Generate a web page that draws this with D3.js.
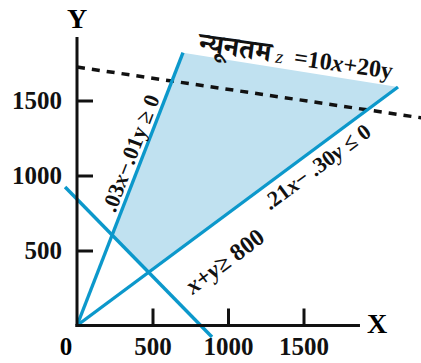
<!DOCTYPE html>
<html>
<head>
<meta charset="utf-8">
<script src="https://cdn.jsdelivr.net/npm/d3@7"></script>
<style>
	body { margin: 0; background: #fff; }
	svg { display: block; font-family: "Liberation Serif", "DejaVu Serif", serif; font-weight: bold; }
</style>
</head>
<body>
<div id="chart"></div>
<script>
	// ticks on both axes
	var xTicks = [500, 1000, 1500];
	var yTicks = [500, 1000, 1500];

	// constraint lines as [x, y] end points
	var lineA = [[0, 0], [702, 1819]];       // .03x - .01y >= 0
	var lineB = [[0, 0], [2126, 1590]];      // .21x - .30y <= 0
	var lineC = [[-79, 923], [894, -77]];    // x + y >= 800
	var objective = [[0, 1723], [2290, 1383]]; // z = 10x + 20y (dashed)

	// corners of the shaded region
	var feasible = [[233, 603], [474, 355], [2126, 1590], [702, 1819]];

(function () {
	'use strict';

	var width = 421, height = 363;
	var blue = "#0c98cb";

	var svg = d3.select("#chart")
		.append("svg")
		.attr("width", width)
		.attr("height", height);

	var x = d3.scaleLinear().domain([0, 2000]).range([77, 379]);
	var y = d3.scaleLinear().domain([0, 2000]).range([325.5, 25.5]);

	var line = d3.line()
		.x(function(d) { return x(d[0]); })
		.y(function(d) { return y(d[1]); });

	// shaded region
	svg.append("path")
		.datum(feasible)
		.attr("d", line.curve(d3.curveLinearClosed))
		.attr("fill", "#c0e1f0");
	line.curve(d3.curveLinear);

	// dashed objective line
	svg.append("path")
		.datum(objective)
		.attr("d", line)
		.attr("fill", "none")
		.attr("stroke", "#111")
		.attr("stroke-width", 3.5)
		.attr("stroke-dasharray", "8,7");

	// constraint lines
	svg.selectAll("path.constraint")
		.data([lineA, lineB, lineC])
		.enter()
		.append("path")
		.attr("class", "constraint")
		.attr("d", line)
		.attr("fill", "none")
		.attr("stroke", blue)
		.attr("stroke-width", 3.4);

	// axes
	var xAxis = d3.axisBottom(x).tickValues(xTicks).tickFormat(d3.format("d")).tickSize(-17).tickPadding(12);
	var yAxis = d3.axisLeft(y).tickValues(yTicks).tickFormat(d3.format("d")).tickSize(-16).tickPadding(15);

	var gx = svg.append("g").attr("transform", "translate(0," + y(0) + ")").call(xAxis);
	var gy = svg.append("g").attr("transform", "translate(" + x(0) + ",0)").call(yAxis);

	[gx, gy].forEach(function(g) {
		g.select(".domain").remove();
		g.selectAll(".tick line").attr("stroke", "#111").attr("stroke-width", 3);
		g.selectAll(".tick text")
			.attr("fill", "#111")
			.style("font-size", "25px")
			.style("font-family", "Liberation Serif, serif")
			.style("font-weight", "bold");
	});

	svg.append("line")
		.attr("x1", x(0) - 1.5).attr("x2", x(1874))
		.attr("y1", y(0)).attr("y2", y(0))
		.attr("stroke", "#111").attr("stroke-width", 3);
	svg.append("line")
		.attr("x1", x(0)).attr("x2", x(0))
		.attr("y1", y(0) + 1.5).attr("y2", y(1923))
		.attr("stroke", "#111").attr("stroke-width", 3);

	svg.append("text")
		.attr("x", x(0) - 11).attr("y", 355)
		.attr("text-anchor", "middle")
		.style("font-size", "25px")
		.text("0");
	svg.append("text")
		.attr("x", x(0)).attr("y", 28)
		.attr("text-anchor", "middle")
		.style("font-size", "28px")
		.text("Y");
	svg.append("text")
		.attr("x", 377).attr("y", 333)
		.attr("text-anchor", "middle")
		.style("font-size", "28px")
		.text("X");

	// label placed along a line at fraction t, shifted off it by `off` pixels
	function alongLine(seg, t, off) {
		var x0 = x(seg[0][0]), y0 = y(seg[0][1]);
		var x1 = x(seg[1][0]), y1 = y(seg[1][1]);
		var a = Math.atan2(y1 - y0, x1 - x0);
		var px = x0 + (x1 - x0) * t - Math.sin(a) * off;
		var py = y0 + (y1 - y0) * t + Math.cos(a) * off;
		return { x: px, y: py, angle: a * 180 / Math.PI };
	}

	function addLabel(pos, parts, size) {
		var t = svg.append("text")
			.attr("transform", "translate(" + pos.x + "," + pos.y + ") rotate(" + pos.angle + ")")
			.attr("text-anchor", "middle")
			.style("font-size", size + "px")
			.attr("fill", "#111");
		parts.forEach(function(p) {
			var s = t.append("tspan").text(p[0]);
			if (p[1]) s.style("font-style", "italic");
		});
		return t;
	}

	addLabel(alongLine(lineA, 0.615, -5), [[".03"], ["x", 1], ["\u2212.01y \u2265 0"]], 22);
	addLabel(alongLine(lineB, 0.718, 23), [[".21"], ["x", 1], ["\u2212 .30"], ["y", 1], [" \u2264 0"]], 22);

	var pC = alongLine(lineB, 0, 0);
	addLabel({ x: x(1010), y: y(385), angle: pC.angle }, [["x", 1], ["+"], ["y", 1], ["\u2265 800"]], 24);

	// objective label at the top
	var objLabel = svg.append("text")
		.attr("transform", "translate(" + x(801) + "," + y(1826) + ") rotate(8)")
		.attr("fill", "#111");
	objLabel.append("tspan")
		.style("font-family", "Noto Serif Devanagari, Noto Sans Devanagari, Lohit Devanagari, FreeSerif, serif")
		.style("font-size", "28px")
		.text("न्यूनतम");
	objLabel.append("tspan")
		.attr("dx", 5)
		.style("font-style", "italic")
		.style("font-weight", "normal")
		.style("font-size", "19px")
		.text("z");
	objLabel.append("tspan").attr("dx", 11).style("font-size", "24px").text("=10");
	objLabel.append("tspan").style("font-size", "24px").style("font-style", "italic").text("x");
	objLabel.append("tspan").style("font-size", "24px").text("+20y");
}());
</script>
</body>
</html>
